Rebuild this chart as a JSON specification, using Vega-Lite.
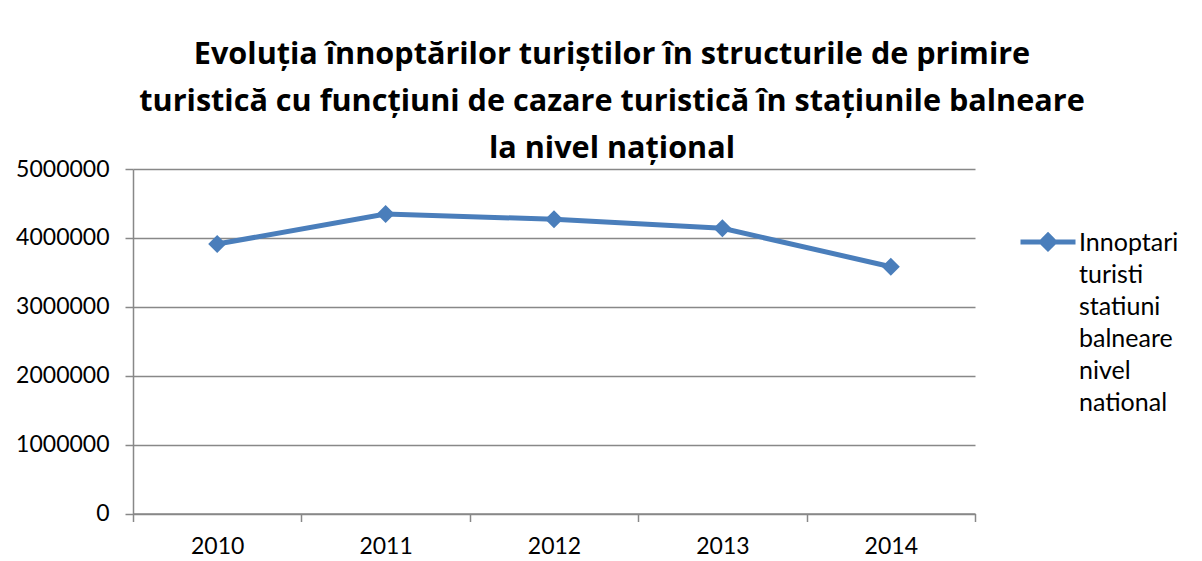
{
  "$schema": "https://vega.github.io/schema/vega-lite/v6.json",
  "width": 842,
  "height": 344.5,
  "autosize": {"type": "none"},
  "padding": {"left": 133, "top": 169, "right": 227, "bottom": 47.5},
  "background": "white",
  "title": {
    "text": ["Evoluția înnoptărilor turiștilor în structurile de primire", "turistică cu funcțiuni de cazare turistică în stațiunile balneare", "la nivel național"],
    "font": "Open Sans",
    "fontSize": 30.6,
    "fontWeight": "bold",
    "color": "#000000",
    "lineHeight": 47,
    "anchor": "middle",
    "dx": 58,
    "offset": -7
  },
  "data": {
    "values": [
      {"an": "2010", "v": 3911000, "serie": "Innoptari|turisti|statiuni|balneare|nivel|national"},
      {"an": "2011", "v": 4347000, "serie": "Innoptari|turisti|statiuni|balneare|nivel|national"},
      {"an": "2012", "v": 4270000, "serie": "Innoptari|turisti|statiuni|balneare|nivel|national"},
      {"an": "2013", "v": 4139000, "serie": "Innoptari|turisti|statiuni|balneare|nivel|national"},
      {"an": "2014", "v": 3582000, "serie": "Innoptari|turisti|statiuni|balneare|nivel|national"}
    ]
  },
  "mark": {
    "type": "line",
    "strokeWidth": 5,
    "color": "#4a7ebb",
    "point": {"shape": "diamond", "size": 324, "filled": true, "color": "#4a7ebb"}
  },
  "encoding": {
    "x": {
      "field": "an",
      "type": "ordinal",
      "scale": {"type": "band", "paddingInner": 0, "paddingOuter": 0},
      "axis": {
        "title": null,
        "tickBand": "extent",
        "labelAngle": 0,
        "tickSize": 8,
        "labelPadding": 14,
        "grid": false
      }
    },
    "y": {
      "field": "v",
      "type": "quantitative",
      "scale": {"domain": [0, 5000000], "nice": false},
      "axis": {
        "title": null,
        "values": [0, 1000000, 2000000, 3000000, 4000000, 5000000],
        "format": "d",
        "tickSize": 8,
        "labelPadding": 16,
        "grid": true
      }
    },
    "color": {
      "field": "serie",
      "type": "nominal",
      "scale": {"range": ["#4a7ebb"]},
      "legend": {
        "orient": "none",
        "legendX": 885,
        "legendY": 52,
        "title": null,
        "symbolType": "M-1,-0.33H1M0,-0.57L0.24,-0.33L0,-0.09L-0.24,-0.33Z",
        "symbolSize": 3025,
        "symbolStrokeWidth": 5,
        "symbolFillColor": "#4a7ebb",
        "symbolStrokeColor": "#4a7ebb",
        "labelFont": "Lato",
        "labelFontSize": 25,
        "labelColor": "#000000",
        "labelBaseline": "alphabetic",
        "labelOffset": 1,
        "labelLimit": 0,
        "labelExpr": "split(datum.label, '|')"
      }
    }
  },
  "config": {
    "view": {"stroke": null},
    "style": {"guide-label": {"lineHeight": 32}},
    "axis": {
      "domainColor": "#888888",
      "domainWidth": 1.5,
      "tickColor": "#888888",
      "tickWidth": 1.5,
      "gridColor": "#888888",
      "gridWidth": 1.5,
      "labelFont": "Lato",
      "labelFontSize": 23,
      "labelColor": "#000000"
    }
  }
}
